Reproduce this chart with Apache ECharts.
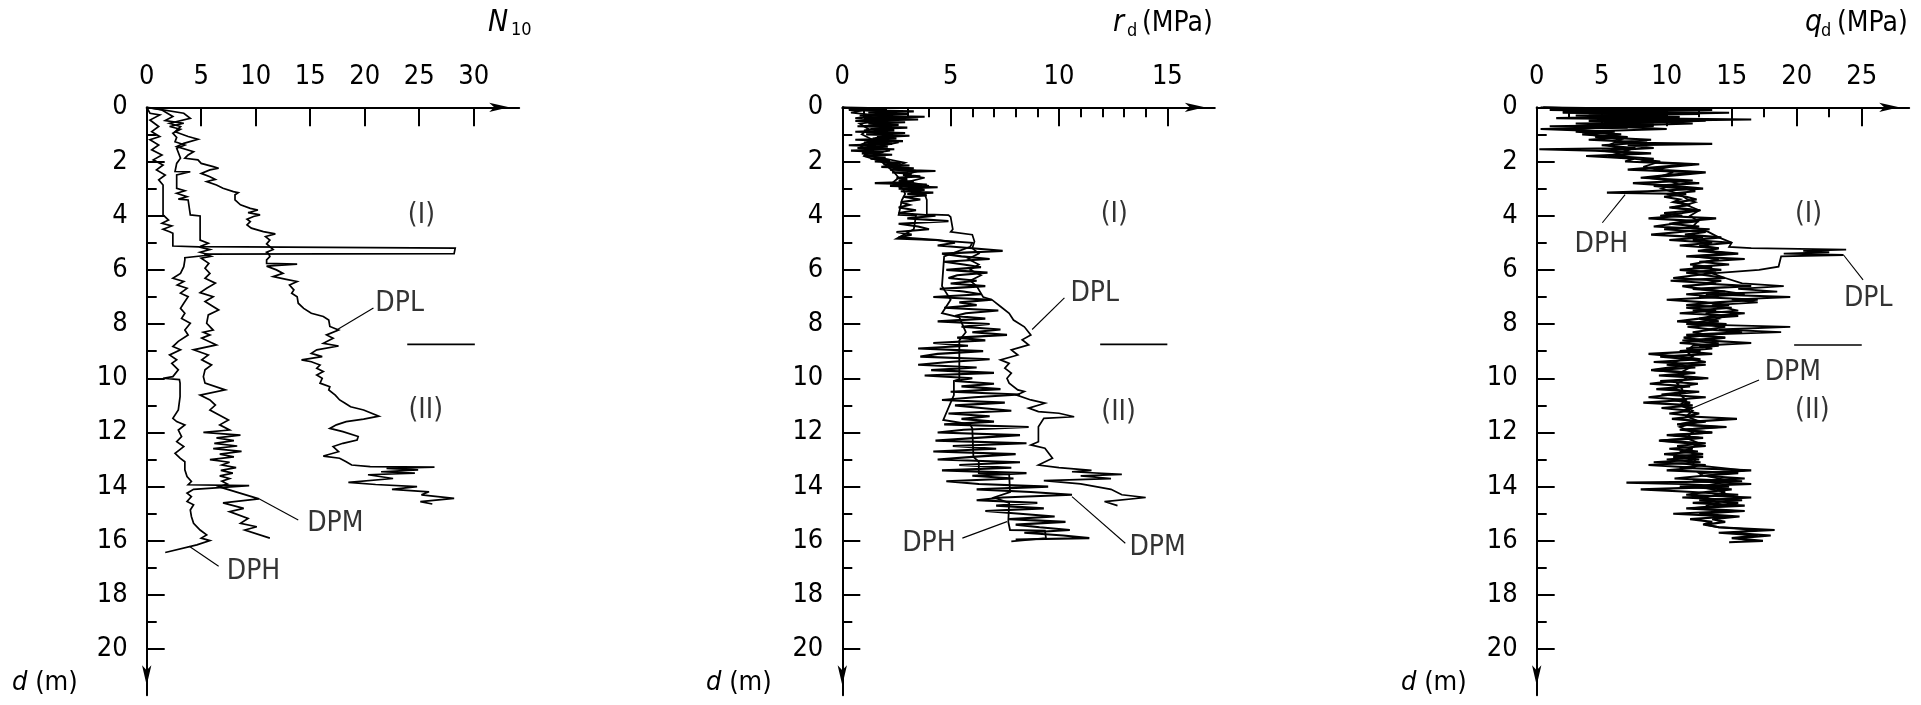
<!DOCTYPE html>
<html>
<head>
<meta charset="utf-8">
<script src="https://cdn.jsdelivr.net/npm/echarts@6/dist/echarts.min.js"></script>
<style>
html,body{margin:0;padding:0;background:#fff;}
#chart{width:1921px;height:705px;}
</style>
</head>
<body>
<div id="chart"></div>
<script>
// Depth axis (m), shared by the three profiles
const depthMajor = [0, 2, 4, 6, 8, 10, 12, 14, 16, 18, 20];
const depthMinor = [1, 3, 5, 7, 9, 11, 13, 15, 17, 19];

// Tick values of the three value axes
const n10Ticks = [0, 5, 10, 15, 20, 25, 30];
const rdTicks = [0, 5, 10, 15];
const rdMinor = [1, 2, 3, 4, 6, 7, 8, 9, 11, 12, 13, 14];
const qdTicks = [0, 5, 10, 15, 20, 25];
const qdMinor = [2.5, 7.5, 12.5, 17.5, 22.5];

// Blow counts N10 per probe: [N10, depth m]
const n10DPL = [[0.1,0],[0.15,0.04],[3.4,0.22],[4.0,0.41],[2.1,0.59],[3.1,0.71],[2.6,0.9],[3.8,1.08],[4.7,1.18],[3.4,1.33],[2.75,1.45],[4.3,1.64],[3.8,1.76],[3.5,1.88],[4.7,1.94],[5.0,2.07],[6.1,2.19],[6.6,2.25],[5.8,2.31],[5.0,2.44],[5.8,2.56],[6.3,2.66],[5.5,2.74],[6.4,2.87],[7.0,2.99],[7.95,3.11],[8.4,3.15],[8.1,3.23],[8.1,3.42],[8.6,3.6],[9.5,3.73],[10.2,3.79],[9.3,3.89],[10.4,3.97],[9.8,4.03],[9.2,4.13],[9.5,4.22],[9.2,4.34],[9.6,4.46],[10.7,4.59],[11.8,4.67],[10.9,4.77],[11.3,4.9],[11.0,5.04],[11.3,5.14],[11.6,5.25],[11.0,5.35],[11.2,5.41],[11.3,5.51],[11.0,5.63],[11.0,5.76],[13.8,5.79],[11.0,5.86],[11.9,6.0],[12.5,6.13],[11.6,6.25],[12.8,6.35],[13.8,6.43],[13.1,6.56],[13.5,6.74],[13.3,6.86],[13.8,6.99],[13.9,7.23],[14.4,7.42],[15.1,7.6],[16.2,7.72],[16.7,7.85],[16.8,8.09],[17.6,8.22],[16.5,8.4],[17.1,8.52],[16.2,8.71],[17.6,8.81],[15.6,8.95],[15.1,9.08],[16.1,9.2],[14.2,9.32],[15.1,9.39],[15.9,9.51],[15.6,9.63],[16.2,9.75],[15.6,9.88],[16.1,10.0],[15.9,10.18],[16.8,10.31],[16.7,10.43],[17.3,10.62],[17.7,10.8],[18.2,10.92],[18.7,11.05],[19.9,11.17],[21.3,11.4],[19.9,11.51],[18.3,11.6],[17.4,11.72],[16.8,11.85],[18.0,11.97],[19.4,12.15],[19.3,12.28],[18.0,12.4],[17.1,12.52],[17.6,12.71],[16.2,12.87],[17.7,12.95],[18.3,13.08],[18.8,13.2],[20.5,13.26],[26.4,13.28],[22.0,13.33],[24.9,13.38],[21.5,13.45],[24.6,13.5],[20.3,13.56],[22.6,13.7],[18.5,13.84],[21.0,13.92],[24.8,14.0],[22.5,14.1],[25.9,14.19],[25.2,14.3],[28.2,14.43],[25.1,14.55],[26.2,14.64]];
const n10DPM = [[0,0],[1.4,0.1],[2.4,0.34],[1.7,0.49],[3.4,0.59],[2.1,0.71],[3.1,0.81],[2.4,0.96],[2.75,1.11],[2.6,1.27],[3.5,1.39],[2.75,1.51],[3.1,1.88],[2.75,2.07],[2.6,2.37],[4.0,2.38],[2.75,2.5],[2.75,2.99],[3.5,3.08],[2.75,3.17],[3.7,3.3],[2.9,3.39],[3.8,3.42],[4.0,3.97],[4.9,4.01],[4.9,4.9],[5.65,5.02],[4.9,5.14],[28.3,5.2],[28.2,5.4],[5.3,5.42],[5.9,5.5],[5.0,5.57],[5.7,5.76],[5.35,5.94],[5.8,6.13],[5.35,6.31],[6.3,6.49],[5.5,6.68],[4.9,6.84],[6.1,6.99],[5.35,7.17],[6.6,7.48],[5.65,7.66],[5.5,7.97],[6.1,8.22],[5.2,8.3],[5.8,8.4],[5.05,8.52],[6.4,8.77],[4.3,8.95],[5.65,9.14],[5.05,9.32],[5.95,9.51],[5.35,9.69],[5.2,9.94],[5.35,10.18],[7.2,10.43],[4.9,10.62],[5.8,10.8],[6.3,10.99],[5.8,11.17],[7.5,11.54],[6.7,11.72],[7.6,11.91],[5.2,12.0],[8.6,12.1],[6.4,12.2],[8.0,12.3],[6.2,12.4],[8.3,12.5],[6.1,12.6],[8.7,12.7],[6.7,12.8],[8.0,12.9],[5.8,13.0],[7.6,13.1],[6.9,13.2],[8.2,13.3],[6.8,13.4],[7.9,13.5],[6.7,13.6],[7.6,13.7],[6.9,13.8],[7.4,13.9],[6.6,14.0],[10.3,14.45],[7.0,14.6],[8.9,14.8],[7.6,14.92],[9.3,15.17],[8.6,15.35],[10.1,15.48],[9.0,15.6],[11.3,15.9]];
const n10DPH = [[0,0],[0.3,0.22],[1.2,0.28],[0.3,0.47],[1.1,0.71],[0.46,0.9],[1.2,1.08],[0.3,1.2],[1.1,1.39],[0.46,1.57],[1.4,1.76],[0.6,1.94],[1.5,2.13],[0.9,2.31],[1.7,2.5],[1.1,2.68],[1.5,2.87],[1.5,3.97],[2.0,4.16],[1.4,4.28],[2.3,4.38],[1.5,4.5],[2.1,4.59],[2.4,4.65],[2.4,5.12],[4.8,5.15],[5.8,5.25],[4.9,5.35],[5.8,5.45],[3.5,5.55],[3.5,5.63],[3.4,5.88],[3.1,6.13],[2.4,6.31],[3.4,6.43],[2.8,6.56],[3.7,6.68],[3.1,6.86],[3.8,6.99],[3.4,7.23],[3.1,7.42],[3.5,7.6],[3.2,7.79],[4.0,7.97],[3.5,8.22],[3.8,8.4],[2.9,8.64],[2.4,8.83],[3.1,8.95],[2.1,9.14],[2.75,9.32],[2.3,9.45],[2.9,9.69],[2.4,9.94],[1.5,10.0],[3.0,10.05],[3.06,10.18],[3.06,10.68],[2.9,11.17],[2.4,11.48],[2.75,11.6],[3.5,11.72],[2.9,11.91],[3.2,12.15],[2.75,12.34],[3.4,12.52],[2.6,12.77],[3.06,12.95],[3.5,13.08],[3.5,13.38],[3.7,13.63],[4.1,13.81],[3.8,13.93],[9.4,13.96],[4.3,14.1],[3.7,14.24],[4.1,14.37],[3.7,14.55],[4.3,14.67],[4.0,14.86],[4.1,15.1],[4.3,15.35],[4.9,15.6],[5.5,15.78],[5.0,15.9],[5.8,15.99],[4.6,16.15],[1.7,16.43]];

// Dynamic point resistance rd (MPa): [rd, depth m]
const rdDPL = [[0,0],[0.8,0.1],[2.5,0.2],[1.2,0.3],[2.9,0.4],[1.5,0.55],[2.2,0.7],[1.0,0.85],[2.3,1.0],[1.4,1.15],[2.6,1.3],[1.6,1.45],[2.2,1.6],[1.0,1.75],[2.0,1.9],[2.9,2.05],[2.4,2.2],[3.5,2.35],[2.9,2.5],[3.8,2.6],[3.0,2.75],[4.0,2.9],[3.4,3.05],[3.8,3.2],[3.9,3.42],[3.9,3.95],[4.9,3.98],[5.0,4.05],[5.1,4.5],[5.0,4.6],[6.0,4.7],[6.1,4.95],[6.0,5.2],[6.3,5.4],[5.8,5.6],[6.3,5.8],[5.9,6.0],[6.4,6.2],[5.9,6.4],[6.2,6.6],[6.5,7.0],[6.9,7.1],[7.3,7.35],[7.7,7.6],[7.9,7.85],[8.4,8.1],[8.6,8.3],[8.7,8.4],[8.3,8.58],[8.6,8.77],[7.8,8.95],[8.1,9.14],[7.3,9.32],[7.7,9.45],[7.5,9.63],[7.8,9.81],[7.6,10.0],[7.7,10.18],[8.1,10.43],[8.4,10.49],[8.05,10.62],[8.7,10.8],[9.35,10.92],[8.6,11.1],[9.05,11.23],[10.0,11.29],[10.7,11.42],[9.3,11.48],[9.05,11.79],[9.05,12.34],[8.7,12.46],[9.35,12.58],[9.7,12.95],[9.05,13.2],[10.0,13.3],[11.5,13.4],[10.6,13.45],[12.9,13.55],[11.0,13.6],[12.4,13.7],[9.3,13.78],[11.0,13.9],[12.4,14.1],[12.9,14.3],[14.0,14.4],[12.1,14.55],[12.7,14.7]];
const rdDPM = [[0,0],[2.0,0.05],[0.3,0.1],[3.3,0.15],[1.2,0.2],[3.0,0.25],[0.8,0.3],[3.8,0.35],[1.0,0.4],[3.5,0.45],[0.6,0.5],[2.9,0.55],[1.2,0.6],[2.6,0.65],[0.7,0.7],[3.0,0.75],[1.3,0.8],[2.4,0.85],[0.6,0.9],[2.9,0.95],[1.1,1.0],[3.1,1.05],[1.6,1.1],[2.5,1.15],[0.6,1.2],[2.8,1.25],[1.0,1.3],[2.3,1.35],[0.3,1.4],[2.1,1.45],[0.7,1.5],[2.4,1.55],[0.4,1.6],[1.9,1.65],[0.9,1.7],[2.3,1.75],[1.0,1.8],[2.0,1.85],[1.3,1.9],[2.2,1.95],[1.5,2.0],[2.7,2.05],[1.9,2.1],[3.1,2.15],[1.8,2.2],[3.3,2.25],[2.2,2.3],[4.3,2.35],[2.3,2.4],[3.2,2.45],[2.8,2.5],[3.6,2.55],[2.5,2.6],[3.0,2.65],[2.6,2.7],[3.3,2.75],[1.5,2.8],[3.9,2.85],[2.2,2.9],[4.4,2.95],[2.6,3.0],[3.8,3.05],[2.7,3.1],[4.2,3.15],[3.0,3.2],[3.9,3.25],[2.8,3.3],[3.6,3.4],[2.7,3.5],[3.1,3.6],[2.6,3.7],[3.4,3.8],[2.6,3.9],[4.3,4.0],[3.0,4.1],[4.9,4.2],[2.6,4.3],[3.5,4.4],[4.0,4.5],[2.5,4.6],[3.2,4.7],[2.6,4.8],[4.4,4.9],[5.2,5.0],[4.4,5.1],[6.0,5.2],[7.4,5.3],[4.6,5.4],[5.5,5.5],[6.8,5.6],[4.7,5.7],[5.6,5.8],[6.4,5.9],[4.8,6.0],[6.7,6.1],[5.3,6.2],[4.9,6.3],[6.2,6.4],[5.0,6.5],[6.6,6.6],[4.5,6.7],[5.6,6.8],[6.4,6.9],[4.2,7.0],[6.9,7.1],[5.4,7.2],[6.2,7.3],[4.7,7.4],[7.2,7.5],[5.7,7.6],[5.2,7.7],[6.6,7.8],[4.4,7.9],[6.8,8.0],[5.5,8.1],[7.3,8.2],[6.0,8.3],[7.6,8.4],[5.3,8.5],[6.6,8.6],[4.2,8.7],[5.8,8.8],[3.5,8.9],[6.5,9.0],[4.4,9.1],[3.6,9.2],[6.8,9.3],[4.9,9.4],[3.5,9.5],[6.2,9.6],[4.1,9.7],[7.0,9.8],[3.8,9.9],[6.0,10.0],[5.2,10.1],[7.0,10.2],[5.5,10.3],[7.3,10.4],[5.0,10.5],[8.2,10.6],[6.1,10.7],[4.6,10.8],[7.5,10.9],[5.2,11.0],[6.4,11.1],[7.8,11.2],[4.9,11.3],[6.8,11.4],[5.5,11.5],[7.0,11.6],[4.7,11.7],[8.6,11.8],[5.6,11.9],[4.4,12.0],[8.2,12.1],[6.2,12.2],[4.3,12.3],[8.5,12.4],[5.1,12.5],[7.1,12.6],[4.2,12.7],[8.0,12.8],[6.0,12.9],[4.4,13.0],[8.2,13.1],[5.4,13.2],[7.8,13.3],[4.6,13.4],[8.5,13.5],[6.0,13.6],[7.9,13.7],[4.8,13.8],[6.3,13.9],[9.5,14.0],[6.2,14.1],[8.7,14.2],[10.6,14.3],[7.4,14.4],[6.2,14.5],[9.0,14.6],[7.1,14.7],[9.3,14.8],[6.6,14.9],[8.2,15.0],[9.8,15.1],[7.7,15.2],[10.3,15.3],[8.0,15.4],[9.1,15.5],[10.5,15.6],[8.4,15.7],[10.2,15.8],[11.4,15.9],[8.0,15.95]];
const rdDPH = [[0,0],[1.0,0.1],[0.4,0.2],[1.6,0.3],[0.6,0.4],[1.8,0.5],[0.8,0.6],[1.2,0.8],[0.9,1.0],[1.4,1.2],[0.8,1.4],[1.2,1.6],[1.0,1.8],[1.8,2.0],[2.1,2.2],[2.4,2.4],[2.6,2.6],[2.3,2.8],[2.8,3.0],[2.9,3.2],[2.75,3.42],[2.6,3.97],[3.4,4.0],[3.3,4.5],[2.5,4.85],[4.3,4.9],[6.0,5.0],[5.9,5.15],[4.7,5.5],[4.6,6.6],[5.0,7.1],[4.6,7.6],[5.4,7.75],[5.7,8.3],[5.4,8.6],[5.4,10.04],[5.15,10.1],[5.15,10.62],[4.66,11.54],[5.9,11.7],[6.0,11.85],[6.05,12.9],[6.3,13.08],[6.3,13.5],[7.7,13.55],[7.74,14.2],[7.0,14.4],[7.7,14.6],[7.66,15.3],[7.74,15.6],[9.35,15.62],[9.4,15.9],[7.8,16.02]];

// Dynamic cone resistance qd (MPa): [qd, depth m]
const qdDPL = [[0.5,0],[8,0.1],[2.5,0.2],[10,0.3],[5,0.4],[13,0.5],[6,0.6],[9,0.7],[2,0.8],[5,0.9],[4,1.0],[6.5,1.2],[5.5,1.4],[7,1.6],[5.5,1.8],[9.5,2.0],[8.2,2.2],[10.5,2.4],[9.2,2.6],[10.8,2.8],[9.6,3.0],[11.0,3.2],[11.6,3.4],[12.2,3.5],[11.5,3.6],[12.5,3.8],[11.8,4.0],[12.4,4.2],[12.0,4.4],[13.2,4.6],[14.0,4.8],[15.0,5.0],[14.8,5.15],[16.5,5.2],[23.8,5.25],[20.5,5.3],[22.5,5.35],[19.0,5.4],[23.6,5.45],[18.8,5.5],[18.6,5.88],[17.1,6.0],[13.5,6.13],[14.5,6.3],[15.8,6.5],[19.0,6.6],[15.5,6.7],[18.5,6.8],[13.0,6.9],[19.5,7.0],[15.0,7.1],[17.0,7.2],[13.5,7.3],[15.5,7.5],[13.0,7.6],[14.0,7.8],[11.5,8.0],[19.5,8.1],[14.0,8.2],[18.8,8.3],[12.5,8.4],[14.5,8.5],[11.2,8.6],[14.0,8.7],[12.0,8.8],[11.5,9.0],[12.0,9.2],[10.5,9.4],[11.8,9.6],[11.0,9.8],[11.5,10.0],[10.8,10.2],[11.2,10.4],[11.0,10.6],[11.5,10.8],[11.0,11.0],[12.0,11.2],[11.5,11.4],[12.5,11.6],[11.0,11.8],[12.0,12.0],[11.5,12.2],[12.5,12.4],[11.8,12.6],[12.0,12.8],[12.2,13.0],[12.0,13.2],[16.0,13.4],[13.0,13.6],[15.0,13.8],[12.5,14.0],[14.5,14.2],[13.0,14.4],[14.0,14.6],[13.0,14.7]];
const qdDPM = [[0.3,0],[3,0.05],[13.5,0.1],[2,0.15],[14.8,0.2],[4,0.3],[11,0.35],[6,0.4],[16.5,0.45],[8,0.5],[12,0.6],[5,0.7],[10,0.8],[3,0.9],[6.5,1.0],[4.5,1.1],[8.8,1.2],[6,1.3],[13.5,1.35],[7,1.4],[9,1.5],[5,1.6],[7.5,1.7],[6,1.8],[9,1.9],[8,2.0],[12.5,2.1],[10.2,2.2],[9,2.3],[13,2.4],[11.0,2.5],[8.5,2.6],[10.2,2.7],[12.5,2.8],[9.0,2.9],[11.4,3.0],[12.2,3.1],[10.0,3.2],[11.5,3.3],[12.3,3.4],[10.8,3.5],[11.6,3.6],[10.4,3.7],[12.6,3.8],[11.2,3.9],[9.5,4.0],[13.8,4.1],[11.5,4.2],[10.2,4.3],[12.5,4.4],[9.8,4.5],[13.0,4.6],[11.4,4.7],[14.2,4.8],[12.0,4.9],[15.0,5.0],[12.5,5.1],[14.0,5.2],[13.0,5.3],[15.5,5.4],[12.2,5.5],[14.0,5.6],[13.0,5.7],[11.8,5.8],[13.5,5.9],[11.0,6.0],[13.8,6.1],[12.2,6.2],[10.5,6.3],[14.2,6.4],[12.8,6.5],[16.5,6.6],[12.0,6.7],[14.5,6.8],[16.0,6.9],[12.5,7.0],[17.0,7.1],[13.8,7.2],[11.5,7.3],[15.0,7.4],[12.0,7.5],[16.0,7.6],[13.6,7.7],[12.5,7.8],[14.0,7.9],[11.8,8.0],[14.5,8.1],[13.2,8.2],[15.8,8.3],[11.5,8.4],[14.5,8.5],[12.8,8.6],[16.5,8.7],[12.5,8.8],[13.5,8.9],[11.0,9.0],[13.5,9.1],[9.5,9.2],[11.8,9.3],[13.0,9.4],[10.0,9.5],[12.2,9.6],[9.0,9.7],[11.8,9.8],[10.6,9.9],[13.2,10.0],[9.5,10.1],[12.4,10.2],[11.0,10.3],[10.5,10.4],[11.5,10.5],[9.6,10.6],[13.0,10.7],[10.4,10.8],[11.8,10.9],[11.0,11.0],[12.0,11.1],[11.2,11.2],[12.5,11.3],[11.5,11.4],[15.4,11.5],[12.0,11.6],[11.0,11.7],[14.6,11.8],[11.0,11.9],[13.5,12.0],[10.5,12.1],[12.5,12.2],[9.5,12.3],[13.0,12.4],[10.8,12.5],[12.0,12.6],[11.0,12.7],[12.8,12.8],[10.5,12.9],[12.5,13.0],[9.0,13.1],[13.0,13.2],[11.0,13.3],[16.5,13.4],[12.5,13.5],[12.8,13.6],[16.0,13.7],[12.0,13.8],[16.5,13.9],[11.0,14.0],[15.0,14.1],[13.0,14.2],[11.5,14.3],[16.5,14.4],[12.5,14.5],[15.5,14.6],[14.0,14.7],[12.0,14.8],[16.0,14.9],[12.5,15.0],[15.6,15.1],[13.5,15.2],[14.5,15.3],[13.0,15.4],[14.0,15.5],[17.0,15.6],[15.0,15.7],[18.0,15.8],[15.5,15.9],[16.5,16.0]];
const qdDPH = [[0.5,0],[6,0.05],[1.0,0.1],[9,0.15],[2,0.2],[12.5,0.25],[3,0.3],[8,0.35],[1.5,0.4],[10,0.45],[4,0.5],[11,0.55],[3,0.6],[9,0.65],[1,0.7],[7,0.75],[0.3,0.8],[6,0.9],[3.5,1.0],[7,1.1],[4,1.2],[8.5,1.3],[5,1.4],[7.6,1.5],[0.2,1.55],[4.5,1.6],[8.8,1.7],[3.8,1.8],[7.5,1.9],[6.8,2.0],[11.8,2.1],[9.5,2.2],[7.0,2.3],[12.5,2.4],[10.0,2.5],[8.0,2.6],[12.0,2.7],[7.4,2.8],[10.5,2.9],[12.8,3.0],[8.5,3.1],[5.4,3.15],[11.5,3.2],[9.8,3.3],[11.0,3.4],[10.5,3.5],[11.8,3.6],[10.2,3.7],[12.2,3.8],[9.8,3.9],[11.2,4.0],[8.6,4.1],[12.5,4.2],[10.5,4.3],[9.0,4.4],[13.3,4.5],[11.0,4.6],[8.8,4.7],[12.8,4.8],[10.2,4.9],[13.5,5.0],[11.0,5.1],[14.0,5.2],[12.4,5.3],[15.0,5.4],[11.5,5.5],[16.0,5.6],[12.5,5.7],[14.8,5.8],[12.0,5.9],[14.2,6.0],[11.5,6.1],[13.0,6.2],[14.5,6.3],[10.3,6.4],[13.8,6.5],[11.2,6.6],[12.6,6.7],[14.5,6.8],[11.5,6.9],[14.0,7.0],[10.0,7.1],[13.0,7.2],[14.8,7.3],[11.5,7.4],[13.8,7.5],[11.0,7.6],[15.5,7.7],[12.5,7.8],[10.8,7.9],[14.6,8.0],[11.6,8.1],[13.5,8.2],[12.0,8.3],[13.2,8.4],[11.3,8.5],[12.8,8.6],[11.0,8.7],[14.0,8.8],[11.5,8.9],[12.6,9.0],[8.6,9.1],[11.0,9.2],[12.6,9.3],[9.0,9.4],[13.0,9.5],[10.2,9.6],[8.8,9.7],[12.2,9.8],[9.4,9.9],[12.8,10.0],[10.5,10.1],[8.7,10.2],[11.8,10.3],[9.2,10.4],[12.5,10.5],[10.4,10.6],[8.6,10.7],[11.5,10.8],[8.2,10.9],[12.0,11.0],[9.6,11.1],[11.8,11.2],[10.2,11.3],[12.2,11.4],[10.4,11.5],[13.0,11.6],[10.8,11.7],[14.0,11.8],[11.2,11.9],[13.5,12.0],[10.0,12.1],[12.8,12.2],[9.4,12.3],[11.6,12.4],[13.0,12.5],[10.2,12.6],[12.4,12.7],[9.8,12.8],[12.8,12.9],[10.0,13.0],[12.6,13.1],[8.6,13.2],[12.2,13.3],[10.0,13.4],[15.5,13.5],[12.8,13.6],[10.6,13.7],[15.8,13.8],[6.9,13.85],[11.2,13.9],[14.8,14.0],[8.0,14.1],[12.0,14.2],[15.5,14.3],[11.2,14.4],[15.8,14.5],[12.0,14.6],[16.0,14.7],[11.5,14.8],[15.2,14.9],[10.5,15.0],[14.8,15.1],[11.8,15.2],[13.5,15.3],[12.8,15.4],[14.0,15.5],[18.3,15.6],[14.0,15.7],[17.0,15.8],[15.0,15.9],[17.4,16.0],[14.8,16.05]];

// Annotations per panel: text with its anchor in axis units, leader lines, layer boundary
const n10Notes = [['DPL', 23.2, 7.25], ['DPM', 17.3, 15.35], ['DPH', 9.8, 17.13], ['(I)', 25.2, 4.0], ['(II)', 25.6, 11.2]];
const n10Leaders = [[[20.8, 7.41], [17.5, 8.2]], [[13.9, 15.23], [10.3, 14.45]], [[6.6, 16.94], [3.9, 16.2]]];
const n10Boundary = [[23.9, 8.75], [30.1, 8.75]];
const rdNotes = [['DPL', 11.65, 6.88], ['DPH', 4.0, 16.09], ['DPM', 14.55, 16.27], ['(I)', 12.55, 3.96], ['(II)', 12.75, 11.28]];
const rdLeaders = [[[10.25, 7.03], [8.76, 8.2]], [[5.54, 15.9], [7.6, 15.29]], [[13.06, 16.09], [10.6, 14.37]]];
const rdBoundary = [[11.9, 8.75], [15.0, 8.75]];
const qdNotes = [['DPH', 4.97, 5.06], ['DPL', 25.5, 7.08], ['DPM', 19.7, 9.79], ['(I)', 20.9, 3.98], ['(II)', 21.2, 11.2]];
const qdLeaders = [[[5.05, 4.26], [6.8, 3.22]], [[25.1, 6.37], [23.6, 5.45]], [[17.1, 10.06], [12.0, 11.1]]];
const qdBoundary = [[19.8, 8.77], [25.0, 8.77]];

const FONT = '"Liberation Sans Narrow", "DejaVu Sans Condensed", "Liberation Sans", sans-serif';
const INK = '#000';
const DEPTH_MAX = 21.7;

// second entry: stroke width of each probe trace
const panels = [
  { left: 146.7, xMax: 34.17, ticks: n10Ticks, minor: [], lines: [[n10DPL, 1.7], [n10DPM, 1.7], [n10DPH, 1.7]], notes: n10Notes, leaders: n10Leaders, boundary: n10Boundary },
  { left: 842.3, xMax: 17.19, ticks: rdTicks, minor: rdMinor, lines: [[rdDPL, 1.7], [rdDPM, 2.1], [rdDPH, 1.8]], notes: rdNotes, leaders: rdLeaders, boundary: rdBoundary },
  { left: 1536.7, xMax: 28.65, ticks: qdTicks, minor: qdMinor, lines: [[qdDPL, 1.8], [qdDPM, 2.1], [qdDPH, 2.1]], notes: qdNotes, leaders: qdLeaders, boundary: qdBoundary }
];

const grid = [], xAxis = [], yAxis = [], series = [];
const tickFont = { color: INK, fontFamily: FONT, fontSize: 27 };
const tickLine = { color: INK, width: 2 };

panels.forEach((p, i) => {
  grid.push({ left: p.left, top: 107.3, width: 372.5, height: 588, containLabel: false, outerBoundsMode: 'none' });
  // value axis along the top, arrow at its far end
  xAxis.push({
    gridIndex: i, type: 'value', position: 'top', min: 0, max: p.xMax,
    axisLine: { show: true, onZero: false, lineStyle: tickLine, symbol: ['none', 'arrow'], symbolSize: [7, 20], symbolOffset: [0, -10] },
    axisTick: { show: true, inside: true, length: 19, lineStyle: tickLine, customValues: p.ticks.filter(v => v > 0) },
    axisLabel: Object.assign({ show: true, margin: 17, customValues: p.ticks }, tickFont),
    splitLine: { show: false }
  });
  // short intermediate ticks
  xAxis.push({
    gridIndex: i, type: 'value', position: 'top', min: 0, max: p.xMax,
    axisLine: { show: false, onZero: false },
    axisTick: { show: p.minor.length > 0, inside: true, length: 10, lineStyle: tickLine, customValues: p.minor.length ? p.minor : [1] },
    axisLabel: { show: false }, splitLine: { show: false }
  });
  // depth axis pointing down, arrow at the deep end
  yAxis.push({
    gridIndex: i, type: 'value', position: 'left', inverse: true, min: 0, max: DEPTH_MAX,
    axisLine: { show: true, onZero: false, lineStyle: tickLine, symbol: ['arrow', 'none'], symbolSize: [7, 20], symbolOffset: [10, 0] },
    axisTick: { show: true, inside: true, length: 18, lineStyle: tickLine, customValues: depthMajor.filter(v => v > 0) },
    axisLabel: Object.assign({ show: true, margin: 19, customValues: depthMajor }, tickFont),
    splitLine: { show: false }
  });
  yAxis.push({
    gridIndex: i, type: 'value', position: 'left', inverse: true, min: 0, max: DEPTH_MAX,
    axisLine: { show: false, onZero: false },
    axisTick: { show: true, inside: true, length: 10, lineStyle: tickLine, customValues: depthMinor },
    axisLabel: { show: false }, splitLine: { show: false }
  });

  const xi = i * 2, yi = i * 2;
  p.lines.forEach(([d, w]) => series.push({
    type: 'line', xAxisIndex: xi, yAxisIndex: yi, data: d, showSymbol: false, symbol: 'none',
    lineStyle: { color: INK, width: w, join: 'miter', miterLimit: 4 }, silent: true, z: 3
  }));
  p.leaders.forEach(seg => series.push({
    type: 'line', xAxisIndex: xi, yAxisIndex: yi, data: seg, showSymbol: false, symbol: 'none',
    lineStyle: { color: INK, width: 1.1 }, silent: true, z: 4
  }));
  series.push({
    type: 'line', xAxisIndex: xi, yAxisIndex: yi, data: p.boundary, showSymbol: false, symbol: 'none',
    lineStyle: { color: INK, width: 1.6 }, silent: true, z: 4
  });
  series.push({
    type: 'scatter', xAxisIndex: xi, yAxisIndex: yi, symbolSize: 0, silent: true, z: 5,
    data: p.notes.map(n => ({ name: n[0], value: [n[1], n[2]] })),
    label: { show: true, position: 'inside', formatter: '{b}', color: INK, fontFamily: FONT, fontSize: 28 }
  });
});

const txt = (extra) => Object.assign({ color: INK, fontFamily: FONT, fontWeight: 'normal' }, extra);
const unitRich = { i: txt({ fontStyle: 'italic', fontSize: 27 }), n: txt({ fontSize: 27 }) };
const title = [
  { text: 'N', left: 488, top: 8, padding: 0, textStyle: txt({ fontSize: 30, fontStyle: 'italic' }) },
  { text: '10', left: 511, top: 21, padding: 0, textStyle: txt({ fontSize: 18 }) },
  { text: 'r', left: 1113, top: 8, padding: 0, textStyle: txt({ fontSize: 30, fontStyle: 'italic' }) },
  { text: 'd', left: 1127, top: 22, padding: 0, textStyle: txt({ fontSize: 18 }) },
  { text: '(MPa)', left: 1142, top: 9.5, padding: 0, textStyle: txt({ fontSize: 28 }) },
  { text: 'q', left: 1805, top: 8, padding: 0, textStyle: txt({ fontSize: 30, fontStyle: 'italic' }) },
  { text: 'd', left: 1821, top: 22, padding: 0, textStyle: txt({ fontSize: 18 }) },
  { text: '(MPa)', left: 1837, top: 9.5, padding: 0, textStyle: txt({ fontSize: 28 }) }
];
[12, 706, 1401].forEach(x => title.push({
  text: '{i|d}{n| (m)}', left: x, top: 669, padding: 0, textStyle: { rich: unitRich }
}));

const chart = echarts.init(document.getElementById('chart'), null, { renderer: 'canvas', width: 1921, height: 705 });
chart.setOption({ animation: false, backgroundColor: '#fff', title, grid, xAxis, yAxis, series });
</script>
</body>
</html>
